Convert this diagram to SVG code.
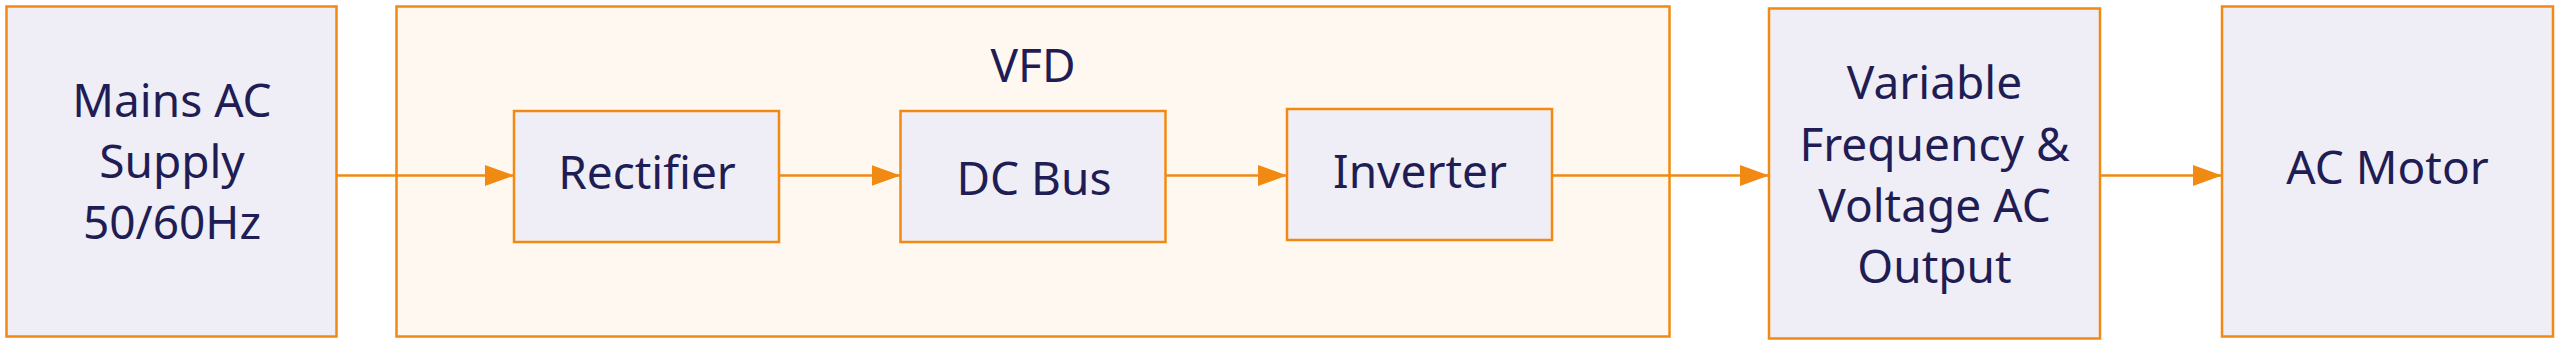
<svg xmlns="http://www.w3.org/2000/svg" width="2560" height="346" viewBox="0 0 2560 346">
<style>
.node{fill:#EFEEF6;stroke:#F08A12;stroke-width:2.5}
.group{fill:#FEF8F1;stroke:#F08A12;stroke-width:2.5}
.lbl{font-family:"Noto Sans","DejaVu Sans",sans-serif;font-size:46px;fill:#1F1D54;text-anchor:middle}
.edge{stroke:#F08A12;stroke-width:2.5;fill:none}
</style>
<defs>
<marker id="arr" viewBox="0 0 29 21" refX="29" refY="10.5" markerWidth="29" markerHeight="21" markerUnits="userSpaceOnUse" orient="auto">
<path d="M0,0 L29,10.5 L0,21 Z" fill="#F08A12"/>
</marker>
</defs>
<rect width="2560" height="346" fill="#FFFFFF"/>
<g id="vfd">
<rect class="group" x="396.5" y="6.5" width="1273" height="330"/>
<text class="lbl" x="1033" y="82">VFD</text>
</g>
<g id="mains">
<rect class="node" x="6.5" y="6.5" width="330" height="330"/>
<text class="lbl" x="172" y="117">Mains AC</text>
<text class="lbl" x="172" y="178">Supply</text>
<text class="lbl" x="172" y="239">50/60Hz</text>
</g>
<g id="rectifier">
<rect class="node" x="514" y="111" width="265" height="131"/>
<text class="lbl" x="647" y="189">Rectifier</text>
</g>
<g id="dcbus">
<rect class="node" x="900.5" y="111" width="265" height="131"/>
<text class="lbl" x="1034" y="195">DC Bus</text>
</g>
<g id="inverter">
<rect class="node" x="1287" y="109" width="265" height="131"/>
<text class="lbl" x="1420" y="188">Inverter</text>
</g>
<g id="output">
<rect class="node" x="1769" y="8.5" width="331" height="330"/>
<text class="lbl" x="1934.5" y="99">Variable</text>
<text class="lbl" x="1934.5" y="161">Frequency &amp;</text>
<text class="lbl" x="1934.5" y="222">Voltage AC</text>
<text class="lbl" x="1934.5" y="283">Output</text>
</g>
<g id="motor">
<rect class="node" x="2222" y="6.5" width="331" height="330"/>
<text class="lbl" x="2387.5" y="184">AC Motor</text>
</g>
<g id="connectors">
<line class="edge" x1="337" y1="175.5" x2="514" y2="175.5" marker-end="url(#arr)"/>
<line class="edge" x1="779" y1="175.5" x2="900.5" y2="175.5" marker-end="url(#arr)"/>
<line class="edge" x1="1165.5" y1="175.5" x2="1287" y2="175.5" marker-end="url(#arr)"/>
<line class="edge" x1="1552" y1="175.5" x2="1769" y2="175.5" marker-end="url(#arr)"/>
<line class="edge" x1="2100" y1="175.5" x2="2222" y2="175.5" marker-end="url(#arr)"/>
</g>
</svg>
